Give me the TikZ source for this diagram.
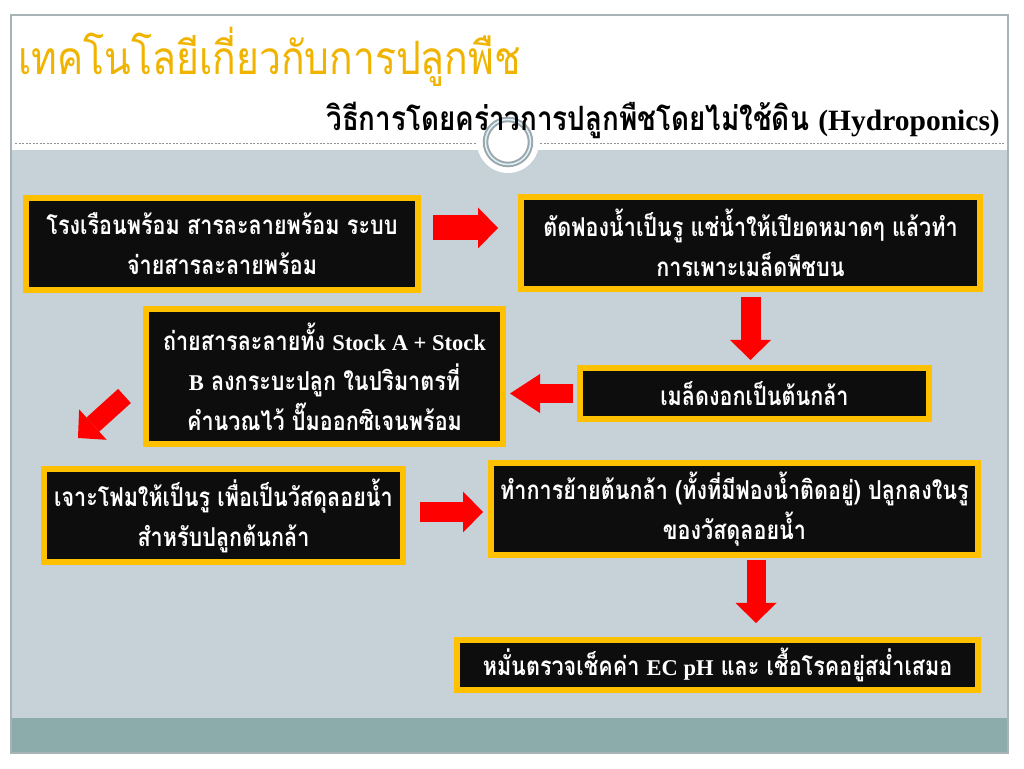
\documentclass[tikz,border=0pt]{standalone}
\usepackage{fontspec}
\setmainfont{Liberation Serif}
\newfontfamily\thaifont[Script=Thai,FakeStretch=0.83]{Loma}
\newfontfamily\titlefont[Script=Thai,FakeStretch=0.85]{Loma}
\newfontfamily\latinfont{Liberation Serif}
\usetikzlibrary{arrows.meta}

\definecolor{slidegrey}{HTML}{C7D1D8}
\definecolor{barteal}{HTML}{8CABAB}
\definecolor{framegrey}{HTML}{A8B3B8}
\definecolor{titlegold}{HTML}{F0B400}
\definecolor{boxgold}{HTML}{FFC000}
\definecolor{boxblack}{HTML}{0D0D0D}
\definecolor{arrowred}{HTML}{FF0000}

\newcommand{\lat}[1]{{\latinfont\bfseries\fontsize{22.5}{40}\selectfont #1}}

\tikzset{
  stepbox/.style={draw=boxgold, line width=6pt, fill=boxblack, text=white,
    align=center, inner sep=2pt, font=\thaifont\bfseries\fontsize{26}{40}\selectfont},
  flow/.style={draw=arrowred, line width=20pt,
    -{Triangle[length=20pt,width=41pt,line width=0pt]}},
  longhead/.style={-{Triangle[length=30pt,width=39pt,line width=0pt]}}
}

\begin{document}
\begin{tikzpicture}[x=1pt, y=1pt]
  \useasboundingbox (0,0) rectangle (1024,768);
  % slide background
  \fill[slidegrey] (11,50) rectangle (1008,618);
  \fill[barteal] (11,15) rectangle (1008,50);
  \draw[framegrey, line width=1.5pt] (11,15) rectangle (1008,753);
  \draw[gray!85, line width=0.8pt, dash pattern=on 2pt off 1.5pt] (15,625) -- (1005,625);
  \fill[white] (508,626) circle (31);
  \draw[gray!75!cyan!60!black!60, line width=5.5pt] (508,626) circle (22.5);
  \draw[white!85!cyan, line width=1.5pt] (508,626) circle (22.5);

  \node[anchor=base west, inner sep=0pt, text=titlegold,
    font=\titlefont\fontsize{46}{46}\selectfont] (title) at (18,693)
    {เทคโนโลยีเกี่ยวกับการปลูกพืช};
  \node[anchor=base east, inner sep=0pt,
    font=\thaifont\bfseries\fontsize{33.5}{36}\selectfont] (subtitle) at (1000,637)
    {วิธีการโดยคร่าวการปลูกพืชโดยไม่ใช้ดิน {\latinfont\bfseries\fontsize{29.5}{36}\selectfont (Hydroponics)}};

  % steps
  \node[stepbox, minimum width=392pt, minimum height=92pt] (house) at (222,524)
    {โรงเรือนพร้อม สารละลายพร้อม ระบบ\\จ่ายสารละลายพร้อม};
  \node[stepbox, minimum width=459pt, minimum height=92pt] (sponge) at (750.5,525)
    {ตัดฟองน้ำเป็นรู แช่น้ำให้เปียดหมาดๆ แล้วทำ\\การเพาะเมล็ดพืชบน};
  \node[stepbox, minimum width=349pt, minimum height=51pt] (sprout) at (754.5,374.5)
    {เมล็ดงอกเป็นต้นกล้า};
  \node[stepbox, minimum width=357pt, minimum height=135pt] (mix) at (324.5,391.5)
    {ถ่ายสารละลายทั้ง \lat{Stock A + Stock}\\\lat{B} ลงกระบะปลูก ในปริมาตรที่\\คำนวณไว้ ปั๊มออกซิเจนพร้อม};
  \node[stepbox, minimum width=359pt, minimum height=93pt] (foam) at (223.5,252.5)
    {เจาะโฟมให้เป็นรู เพื่อเป็นวัสดุลอยน้ำ\\สำหรับปลูกต้นกล้า};
  \node[stepbox, minimum width=487pt, minimum height=92pt] (move) at (734.5,259)
    {ทำการย้ายต้นกล้า (ทั้งที่มีฟองน้ำติดอยู่) ปลูกลงในรู\\ของวัสดุลอยน้ำ};
  \node[stepbox, minimum width=521pt, minimum height=50pt] (check) at (717.5,103)
    {หมั่นตรวจเช็คค่า \lat{EC pH} และ เชื้อโรคอยู่สม่ำเสมอ};

  % arrows
  \draw[flow, line width=25pt, shorten <=12pt, shorten >=20pt]
    ([yshift=16pt]house.east) -- ([yshift=16pt]house.east -| sponge.west);
  \draw[flow, shorten <=5pt, shorten >=5pt] (sponge.south) -- (sponge.south |- sprout.north);
  \draw[flow, longhead, line width=19pt, shorten <=4pt, shorten >=4pt]
    (sprout.west) -- (sprout.west -| mix.east);
  \draw[flow, line width=19pt] ([shift={(-18.5,-19.5)}]mix.west) -- ([shift={(37,28)}]foam.north west);
  \draw[flow, shorten <=14pt, shorten >=5pt]
    ([yshift=3.5pt]foam.east) -- ([yshift=3.5pt]foam.east -| move.west);
  \draw[flow, line width=19pt, shorten <=2pt, shorten >=14pt]
    ([xshift=21.5pt]move.south) -- ([xshift=21.5pt]move.south |- check.north);
\end{tikzpicture}
\end{document}
